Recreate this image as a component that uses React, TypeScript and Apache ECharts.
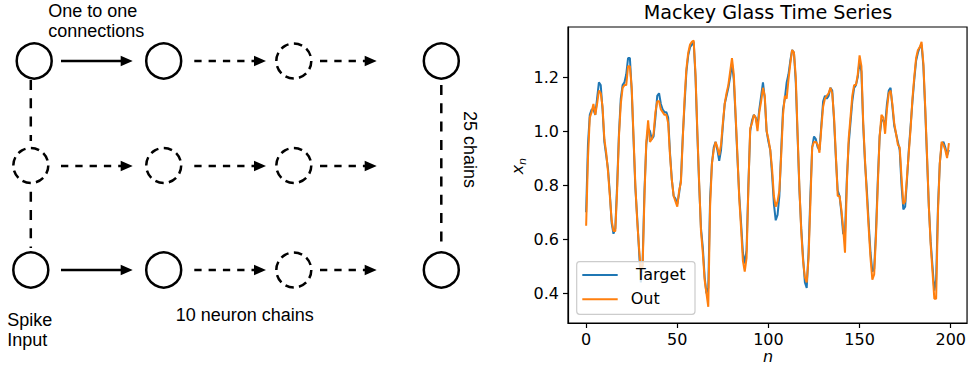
import React, { useEffect, useRef } from "react";
import * as echarts from "echarts";

// ---- chart data ----
const target: number[] = [
  0.70, 0.95, 1.06, 1.08, 1.08, 1.06, 1.12, 1.18, 1.17, 1.08,
  0.96, 0.91, 0.86, 0.77, 0.66, 0.62, 0.64, 0.80, 0.99, 1.12,
  1.17, 1.18, 1.21, 1.27, 1.27, 1.15, 0.97, 0.79, 0.68, 0.56,
  0.44, 0.52, 0.78, 0.95, 1.01, 1.00, 0.97, 0.98, 1.05, 1.13,
  1.14, 1.10, 1.08, 1.07, 1.07, 1.05, 0.92, 0.82, 0.76, 0.75,
  0.73, 0.77, 0.82, 0.98, 1.10, 1.22, 1.28, 1.31, 1.32, 1.33,
  1.20, 0.99, 0.80, 0.64, 0.57, 0.46, 0.40, 0.42, 0.75, 0.88,
  0.94, 0.96, 0.93, 0.89, 0.93, 1.02, 1.10, 1.13, 1.16, 1.20,
  1.25, 1.19, 1.05, 0.90, 0.76, 0.66, 0.55, 0.51, 0.56, 0.80,
  1.00, 1.04, 1.06, 1.05, 1.02, 1.08, 1.13, 1.18, 1.12, 1.00,
  0.96, 0.93, 0.84, 0.73, 0.67, 0.69, 0.76, 0.93, 1.08, 1.12,
  1.18, 1.21, 1.26, 1.30, 1.29, 1.18, 0.98, 0.78, 0.64, 0.53,
  0.44, 0.42, 0.55, 0.76, 0.94, 0.98, 0.97, 0.94, 0.93, 1.02,
  1.11, 1.13, 1.12, 1.13, 1.16, 1.15, 1.04, 0.90, 0.78, 0.76,
  0.70, 0.62, 0.62, 0.82, 0.95, 1.03, 1.11, 1.16, 1.17, 1.20,
  1.26, 1.22, 1.02, 0.88, 0.78, 0.66, 0.55, 0.48, 0.49, 0.63,
  0.82, 0.98, 1.04, 1.04, 1.02, 1.10, 1.15, 1.16, 1.09, 1.02,
  0.99, 0.96, 0.93, 0.80, 0.71, 0.72, 0.82, 0.93, 1.02, 1.11,
  1.19, 1.26, 1.29, 1.31, 1.32, 1.24, 1.08, 0.90, 0.72, 0.59,
  0.50, 0.41, 0.45, 0.72, 0.88, 0.95, 0.96, 0.94, 0.91, 0.93,
];

const output: number[] = [
  0.65, 0.90, 1.05, 1.07, 1.10, 1.06, 1.10, 1.15, 1.14, 1.09,
  0.97, 0.92, 0.85, 0.76, 0.67, 0.63, 0.63, 0.78, 0.98, 1.10,
  1.16, 1.17, 1.17, 1.24, 1.24, 1.16, 0.98, 0.80, 0.67, 0.57,
  0.48, 0.50, 0.76, 0.96, 1.04, 0.96, 0.97, 0.99, 1.07, 1.11,
  1.11, 1.08, 1.07, 1.06, 1.06, 1.03, 0.91, 0.82, 0.76, 0.74,
  0.72, 0.78, 0.81, 0.97, 1.12, 1.23, 1.29, 1.32, 1.33, 1.335,
  1.21, 1.00, 0.81, 0.63, 0.55, 0.45, 0.40, 0.35, 0.72, 0.88,
  0.93, 0.96, 0.94, 0.91, 0.95, 1.03, 1.10, 1.14, 1.17, 1.22,
  1.27, 1.21, 1.06, 0.91, 0.75, 0.64, 0.52, 0.48, 0.53, 0.79,
  1.01, 1.03, 1.06, 1.05, 1.00, 1.07, 1.11, 1.16, 1.13, 1.00,
  0.97, 0.93, 0.86, 0.76, 0.72, 0.74, 0.78, 0.91, 1.06, 1.13,
  1.12, 1.19, 1.25, 1.30, 1.29, 1.20, 0.99, 0.79, 0.63, 0.52,
  0.46, 0.44, 0.53, 0.73, 0.94, 0.96, 0.96, 0.95, 0.92, 1.01,
  1.09, 1.12, 1.13, 1.14, 1.16, 1.14, 1.05, 0.91, 0.76, 0.76,
  0.71, 0.64, 0.55, 0.80, 0.97, 1.05, 1.13, 1.17, 1.17, 1.21,
  1.28, 1.24, 1.03, 0.89, 0.76, 0.64, 0.53, 0.45, 0.47, 0.61,
  0.80, 0.98, 1.06, 1.05, 0.99, 1.08, 1.14, 1.15, 1.10, 1.03,
  0.99, 0.95, 0.94, 0.83, 0.73, 0.74, 0.83, 0.92, 1.01, 1.12,
  1.20, 1.27, 1.30, 1.31, 1.33, 1.25, 1.09, 0.91, 0.72, 0.58,
  0.48, 0.38, 0.38, 0.70, 0.88, 0.96, 0.95, 0.93, 0.90, 0.955,
];

const seriesNames: string[] = ["Target", "Out"];
const xTicks: number[] = [0, 50, 100, 150, 200];
const yTicks: number[] = [0.4, 0.6, 0.8, 1.0, 1.2];
const chartTitle = "Mackey Glass Time Series";

// ---- diagram texts ----
const topLabel: string[] = ["One to one", "connections"];
const inputLabel: string[] = ["Spike", "Input"];
const chainLabel = "10 neuron chains";
const sideLabel = "25 chains";

const BLUE = "#1f77b4";
const ORANGE = "#ff7f0e";
const MPL = "DejaVu Sans, sans-serif";
const ARIAL = "Liberation Sans, Arial, sans-serif";

function buildDiagram(): any[] {
  const els: any[] = [];
  const R = 17.5;
  const LW = 2.5;
  const circles: [number, number, boolean][] = [
    [34.2, 61, false], [163.7, 61, false], [293.8, 61, true], [441.3, 61, false],
    [30.8, 165.5, true], [163.7, 165.5, true], [293.8, 165.5, true],
    [30.8, 270, false], [163.7, 270, false], [293.8, 270, true], [441.3, 270, false],
  ];
  circles.forEach(([cx, cy, dashed]) => {
    els.push({
      type: "circle",
      shape: { cx, cy, r: R },
      style: { fill: "#fff", stroke: "#000", lineWidth: LW, lineDash: dashed ? [8.5, 5.2] : null },
    });
  });
  const arrows: [number, number, number, boolean][] = [
    [61, 132.7, 61, false], [194.3, 266, 61, true], [320, 376.7, 61, true],
    [61, 132.7, 166, true], [194.3, 266, 166, true], [320, 376.7, 166, true],
    [61, 132.7, 270, false], [194.3, 266, 270, true], [320, 376.7, 270, true],
  ];
  arrows.forEach(([x1, tip, y, dashed]) => {
    els.push({
      type: "line",
      shape: { x1, y1: y, x2: tip - 11, y2: y },
      style: { stroke: "#000", lineWidth: LW, lineDash: dashed ? [7.3, 7] : null },
    });
    els.push({
      type: "polygon",
      shape: { points: [[tip, y], [tip - 12, y - 5.2], [tip - 12, y + 5.2]] },
      style: { fill: "#000" },
    });
  });
  const vlines: [number, number, number][] = [
    [30.8, 80, 141], [30.8, 191.7, 248], [441.3, 85, 245],
  ];
  vlines.forEach(([x, y1, y2]) => {
    els.push({
      type: "line",
      shape: { x1: x, y1, x2: x, y2 },
      style: { stroke: "#000", lineWidth: LW, lineDash: [10, 8.3] },
    });
  });
  const txt = (text: string, x: number, y: number, extra: any = {}) => ({
    type: "text",
    x,
    y,
    ...extra,
    style: { text, fill: "#000", font: `18px ${ARIAL}`, align: "left", verticalAlign: "middle" },
  });
  els.push(txt(topLabel[0], 48.3, 11));
  els.push(txt(topLabel[1], 48.3, 31));
  els.push(txt(inputLabel[0], 7.3, 319.7));
  els.push(txt(inputLabel[1], 7.3, 340.4));
  els.push(txt(chainLabel, 175.7, 315.4));
  els.push(txt(sideLabel, 470, 111, { rotation: -Math.PI / 2 }));
  return els;
}

function buildChartDecor(): any[] {
  const els: any[] = [];
  // title
  els.push({
    type: "text",
    x: 768,
    y: 12.3,
    style: { text: chartTitle, fill: "#000", font: `19.2px ${MPL}`, align: "center", verticalAlign: "middle" },
  });
  // x axis label
  els.push({
    type: "text",
    x: 768,
    y: 356.5,
    style: { text: "n", fill: "#000", font: `italic 16px ${MPL}`, align: "center", verticalAlign: "middle" },
  });
  // y axis label x_n
  els.push({
    type: "group",
    x: 523.3,
    y: 173.3,
    rotation: Math.PI / 2,
    children: [
      {
        type: "text",
        x: -1,
        y: -5.6,
        style: { text: "x", fill: "#000", font: `italic 16px ${MPL}`, align: "left", verticalAlign: "middle" },
      },
      {
        type: "text",
        x: 8.3,
        y: -0.5,
        style: { text: "n", fill: "#000", font: `italic 11.2px ${MPL}`, align: "left", verticalAlign: "middle" },
      },
    ],
  });
  // legend
  els.push({
    type: "rect",
    shape: { x: 576.7, y: 261.7, width: 118.3, height: 52.6, r: 3 },
    style: { fill: "rgba(255,255,255,0.8)", stroke: "#cccccc", lineWidth: 1.2 },
    z: 10,
  });
  const legendRows: [string, string, number, number][] = [
    [seriesNames[0], BLUE, 275, 636],
    [seriesNames[1], ORANGE, 299.3, 630.7],
  ];
  legendRows.forEach(([name, color, y, tx]) => {
    els.push({
      type: "line",
      shape: { x1: 582.3, y1: y, x2: 617.7, y2: y },
      style: { stroke: color, lineWidth: 2 },
      z: 11,
    });
    els.push({
      type: "text",
      x: tx,
      y: y - 0.8,
      z: 11,
      style: { text: name, fill: "#000", font: `16px ${MPL}`, align: "left", verticalAlign: "middle" },
    });
  });
  return els;
}

export default function App() {
  const ref = useRef<HTMLDivElement>(null);
  useEffect(() => {
    if (!ref.current) return;
    const chart = echarts.init(ref.current, undefined, { renderer: "svg" });
    const targetData = target.map((v, i) => [i, v]);
    const outData = output.map((v, i) => [i, v]);
    const axisCommon = {
      axisLine: { show: true, onZero: false, lineStyle: { color: "#000", width: 1.2 } },
      splitLine: { show: false },
    };
    chart.setOption({
      animation: false,
      backgroundColor: "#fff",
      grid: {
        left: 568,
        top: 27,
        width: 400,
        height: 296,
        show: true,
        borderColor: "#000",
        borderWidth: 1.2,
        backgroundColor: "transparent",
      },
      xAxis: {
        type: "value",
        min: -9.95,
        max: 208.95,
        ...axisCommon,
        axisTick: { show: true, length: 5, lineStyle: { color: "#000", width: 1.2 }, customValues: xTicks },
        axisLabel: {
          customValues: xTicks,
          fontSize: 16,
          color: "#000",
          fontFamily: MPL,
          margin: 8,
        },
      },
      yAxis: {
        type: "value",
        min: 0.29,
        max: 1.385,
        ...axisCommon,
        axisTick: { show: true, length: 5, lineStyle: { color: "#000", width: 1.2 }, customValues: yTicks },
        axisLabel: {
          customValues: yTicks,
          fontSize: 16,
          color: "#000",
          fontFamily: MPL,
          margin: 9,
          formatter: (v: number) => v.toFixed(1),
        },
      },
      series: [
        {
          name: seriesNames[0],
          type: "line",
          data: targetData,
          showSymbol: false,
          lineStyle: { color: BLUE, width: 2 },
          itemStyle: { color: BLUE },
          z: 2,
        },
        {
          name: seriesNames[1],
          type: "line",
          data: outData,
          showSymbol: false,
          lineStyle: { color: ORANGE, width: 2 },
          itemStyle: { color: ORANGE },
          z: 3,
        },
      ],
      graphic: [...buildDiagram(), ...buildChartDecor()],
    });
    return () => chart.dispose();
  }, []);
  return (
    <div
      ref={ref}
      style={{ position: "absolute", left: 0, top: 0, width: 969, height: 371, background: "#fff" }}
    />
  );
}
